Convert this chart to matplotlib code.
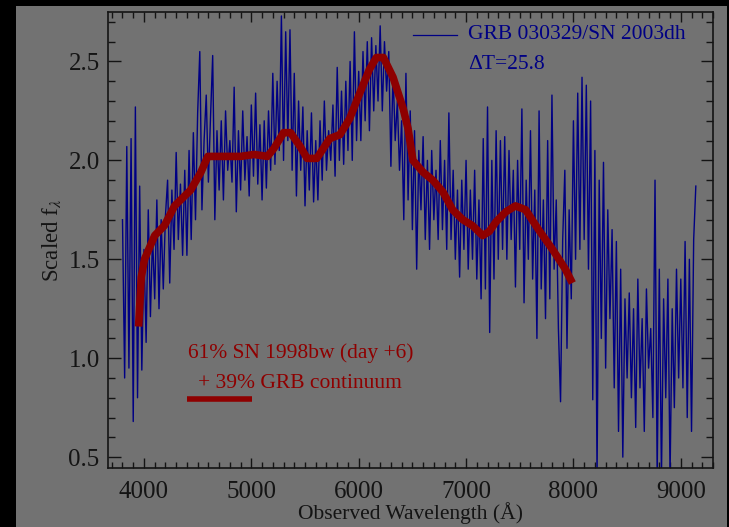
import numpy as np
import matplotlib
matplotlib.use('Agg')
import matplotlib.pyplot as plt
from matplotlib.patches import Rectangle
from matplotlib.ticker import MultipleLocator

plt.rcParams['font.family'] = ['Liberation Serif', 'DejaVu Serif']
plt.rcParams['mathtext.fontset'] = 'stix'

#####################
# Data
#####################
# observed spectrum, 20 A sampling from 3800 A
spec_start = 3800
spec_step = 20
spec_flux = [
    1.70, 0.90, 2.07, 0.95, 2.11, 0.68, 2.27, 0.80, 1.87, 0.94,
    1.55, 1.08, 1.75, 1.21, 1.62, 1.30, 1.80, 1.25, 1.70, 1.35,
    1.72, 1.90, 1.38, 1.85, 1.55, 2.04, 1.60, 1.88, 1.52, 1.95,
    1.52, 2.05, 1.60, 2.14, 1.70, 2.24, 2.55, 1.75, 2.10, 2.33,
    1.89, 2.22, 2.53, 1.70, 2.15, 1.85, 2.20, 1.80, 2.25, 1.95,
    2.10, 1.89, 2.37, 1.74, 2.15, 1.85, 2.25, 1.90, 2.12, 1.82,
    2.28, 1.92, 2.34, 1.88, 2.18, 1.80, 2.20, 1.86, 2.25, 1.95,
    2.44, 1.98, 2.40, 2.05, 2.73, 2.00, 2.65, 2.10, 2.66, 1.95,
    2.44, 1.82, 2.30, 1.95, 2.27, 1.77, 2.15, 1.85, 2.24, 1.79,
    2.10, 1.80, 2.20, 1.90, 2.30, 1.95, 2.15, 2.00, 2.28, 1.92,
    2.47, 2.00, 2.35, 1.98, 2.40, 2.05, 2.50, 2.00, 2.65, 2.10,
    2.45, 2.10, 2.55, 2.20, 2.60, 2.15, 2.62, 2.25, 2.58, 2.30,
    2.68, 2.25, 2.60, 2.35, 2.55, 1.97, 2.45, 2.10, 2.30, 1.95,
    2.20, 1.70, 2.44, 1.80, 2.25, 1.65, 2.15, 1.45, 2.05, 1.75,
    2.12, 1.60, 2.00, 1.55, 2.05, 1.70, 1.95, 1.60, 2.10, 1.65,
    2.00, 1.55, 2.24, 1.60, 1.95, 1.50, 1.85, 1.41, 1.90, 1.55,
    2.00, 1.45, 1.85, 1.50, 1.95, 1.40, 1.80, 1.30, 2.11, 1.35,
    2.27, 1.13, 2.00, 1.40, 2.15, 1.50, 2.10, 1.55, 2.12, 1.50,
    2.05, 1.60, 1.95, 1.36, 2.00, 1.55, 2.26, 1.28, 1.90, 1.50,
    2.15, 1.40, 1.85, 1.10, 2.25, 1.35, 1.80, 1.20, 2.10, 1.30,
    2.33, 1.45, 1.80, 1.15, 0.78, 1.60, 1.95, 1.05, 1.75, 1.30,
    2.20, 1.50, 2.34, 1.55, 2.42, 1.60, 2.38, 1.45, 2.30, 0.79,
    2.05, 0.40, 1.90, 1.10, 1.99, 0.95, 1.75, 1.20, 1.65, 0.85,
    1.59, 0.63, 1.45, 0.50, 1.30, 0.90, 1.33, 0.80, 1.25, 0.65,
    1.40, 0.85, 1.20, 0.63, 1.35, 0.95, 1.15, 0.70, 1.90, 0.40,
    1.45, 0.40, 1.30, 0.80, 1.40, 0.40, 1.25, 0.75, 1.45, 0.90,
    1.40, 0.85, 1.59, 0.70, 1.50, 0.63, 1.60, 1.87,
]
spec_wl = spec_start + spec_step * np.arange(len(spec_flux))

# SN 1998bw + continuum model
model_wl = [3950, 3975, 4005, 4100, 4190, 4285, 4435, 4530, 4595, 4710,
            4900, 5025, 5150, 5210, 5300, 5365, 5455, 5520, 5610, 5730,
            5825, 5915, 6010, 6100, 6165, 6230, 6320, 6415, 6460, 6505,
            6600, 6690, 6785, 6875, 6970, 7060, 7155, 7215, 7280, 7370,
            7460, 7555, 7675, 7805, 7925, 7990]
model_flux = [1.16, 1.41, 1.50, 1.62, 1.67, 1.77, 1.85, 1.94, 2.02, 2.02,
              2.02, 2.03, 2.02, 2.06, 2.14, 2.14, 2.07, 2.01, 2.01, 2.11,
              2.13, 2.21, 2.34, 2.46, 2.52, 2.52, 2.42, 2.26, 2.16, 2.00,
              1.94, 1.90, 1.84, 1.75, 1.70, 1.67, 1.62, 1.64, 1.69, 1.74,
              1.77, 1.75, 1.65, 1.55, 1.45, 1.38]

spec_label = 'GRB 030329/SN 2003dh'
dt_label = '\u0394T=25.8'
model_label = ['61% SN 1998bw (day +6)', '+ 39% GRB continuum']

#####################
# Plot
#####################
bg = '#727272'
blue = '#000084'
red = '#8e0000'
ink = '#141414'

fig = plt.figure(figsize=(7.29, 5.27), dpi=100)
fig.patch.set_facecolor('black')
fig.patches.append(Rectangle((16 / 729, 0), 711 / 729, 521 / 527, transform=fig.transFigure,
                             facecolor=bg, edgecolor='none', zorder=-5))

ax = fig.add_axes([108 / 729, 1 - 468 / 527, 605 / 729, 456 / 527])
ax.set_facecolor(bg)

ax.plot(spec_wl, spec_flux, color=blue, lw=1.0)
ax.plot(model_wl, model_flux, color=red, lw=5.5, solid_capstyle='butt')

ax.set_xlim(3665, 9300)
ax.set_ylim(0.445, 2.75)

ax.xaxis.set_major_locator(MultipleLocator(1000))
ax.xaxis.set_minor_locator(MultipleLocator(100))
ax.yaxis.set_major_locator(MultipleLocator(0.5))
ax.yaxis.set_minor_locator(MultipleLocator(0.1))
ax.tick_params(which='both', direction='in', top=True, right=True, colors=ink, width=1.0)
ax.tick_params(which='major', axis='y', length=9, pad=6, labelsize=18)
ax.tick_params(which='minor', axis='y', length=5)
ax.tick_params(which='major', axis='x', length=7.5, pad=9.5, labelsize=18)
ax.tick_params(which='minor', axis='x', length=4)
for s in ax.spines.values():
    s.set_color(ink)
    s.set_linewidth(1.2)

ax.set_xlabel('Observed Wavelength (\u00c5)', fontsize=15.5, color=ink, labelpad=-1)
ax.set_ylabel('Scaled f$_\\lambda$', fontsize=16.5, color=ink, labelpad=4)

# legend drawn by hand
ax.plot([0.504, 0.577], [0.9496, 0.9496], transform=ax.transAxes, color=blue, lw=0.9)
ax.text(0.595, 0.9496, spec_label, transform=ax.transAxes, color=blue,
        fontsize=15.5, va='center', ha='left')
ax.text(0.595, 0.8838, dt_label, transform=ax.transAxes, color=blue,
        fontsize=15.5, va='center', ha='left')

ax.text(0.132, 0.2522, model_label[0], transform=ax.transAxes, color=red,
        fontsize=15.5, va='center', ha='left')
ax.text(0.149, 0.1864, model_label[1], transform=ax.transAxes, color=red,
        fontsize=15.5, va='center', ha='left')
ax.plot([0.1306, 0.238], [0.1513, 0.1513], transform=ax.transAxes, color=red,
        lw=4.0, solid_capstyle='butt')

fig.savefig('out.png', dpi=100, facecolor=fig.get_facecolor())
